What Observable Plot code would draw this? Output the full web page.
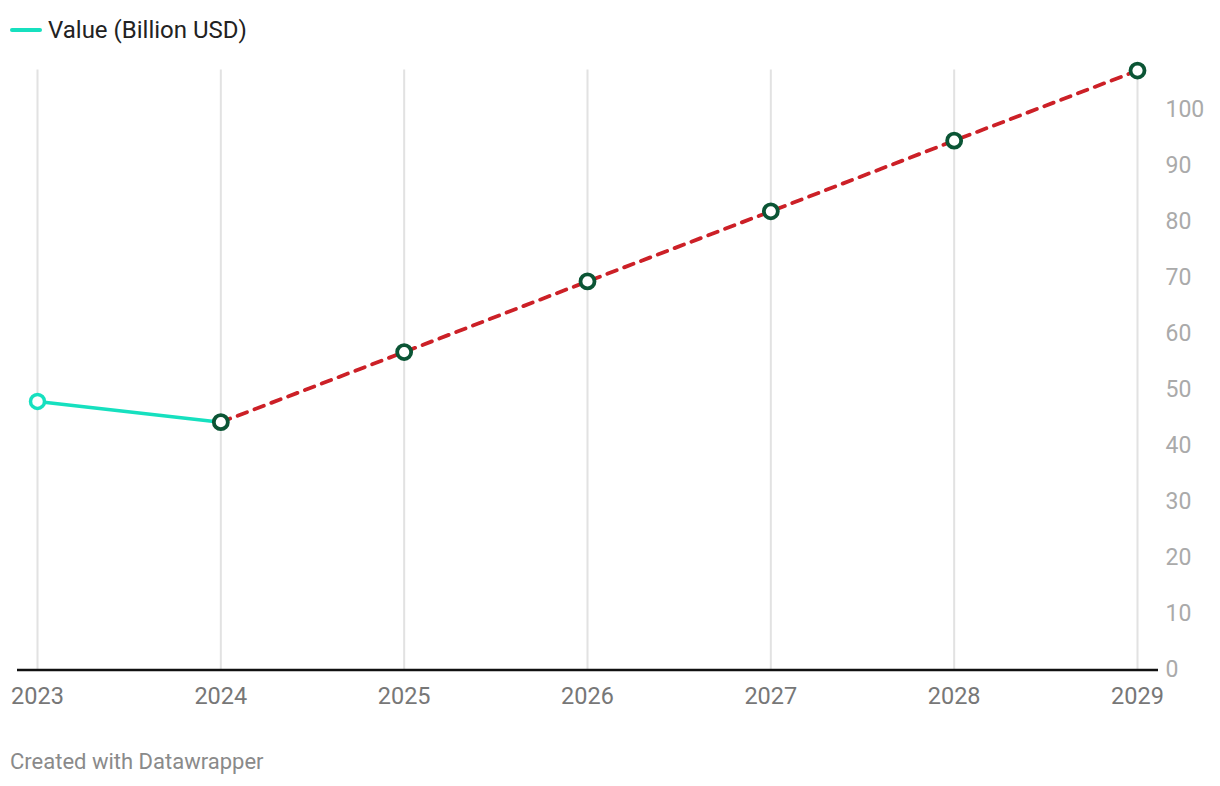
<!DOCTYPE html>
<html>
<head>
<meta charset="utf-8">
<script src="https://cdn.jsdelivr.net/npm/d3@7"></script>
<script src="https://cdn.jsdelivr.net/npm/@observablehq/plot@0.6"></script>
<style>
  html, body { margin: 0; padding: 0; background: #fff; }
  body { width: 1220px; height: 786px; font-family: Roboto, "Noto Sans", sans-serif; position: relative; overflow: hidden; }
  #legend { height: 56px; position: relative; }
  #legend .sw { position: absolute; left: 10px; top: 28px; width: 32px; height: 4px; border-radius: 2px; background: #16e0bf; }
  #legend .lab { position: absolute; left: 48px; top: 15px; font-size: 24px; line-height: 30px; color: #222; }
  #footer { position: absolute; left: 10px; top: 748px; font-size: 22px; color: #8a8a8a; line-height: 28px; }
</style>
</head>
<body>
<div id="legend"><div class="sw"></div><div class="lab">Value (Billion USD)</div></div>
<div id="chart"></div>
<div id="footer">Created with Datawrapper</div>
<script>
const years = [2023, 2024, 2025, 2026, 2027, 2028, 2029];
const values = [47.9, 44.2, 56.7, 69.3, 81.8, 94.4, 106.9];
const yTicks = [0, 10, 20, 30, 40, 50, 60, 70, 80, 90, 100];

const data = years.map((year, i) => ({year, value: values[i]}));
const actual = data.slice(0, 2);
const forecast = data.slice(1);

const chart = Plot.plot({
  width: 1220,
  height: 660,
  marginTop: 13.5,
  marginBottom: 46.5,
  marginLeft: 17,
  marginRight: 62,
  style: {fontFamily: "Roboto, sans-serif", background: "#fff"},
  x: {domain: [2023, 2029], insetLeft: 20, insetRight: 21},
  y: {domain: [0, 107]},
  marks: [
    Plot.ruleX(years, {stroke: "#e2e2e2", strokeWidth: 2}),
    Plot.ruleY([0], {stroke: "#111", strokeWidth: 2.5}),
    Plot.axisX({ticks: years, tickFormat: d => String(d), tickSize: 0, tickPadding: 17, fontSize: 23.5, fill: "#777", label: null}),
    Plot.axisY({anchor: "right", ticks: yTicks, tickSize: 0, tickPadding: 7, fontSize: 23, fill: "#aaa", label: null}),
    Plot.line(actual, {x: "year", y: "value", stroke: "#16e0bf", strokeWidth: 3.5}),
    Plot.line(forecast, {x: "year", y: "value", stroke: "#cc2027", strokeWidth: 3.8, strokeDasharray: "10,8"}),
    Plot.dot(data.slice(0, 1), {x: "year", y: "value", r: 7, fill: "#fff", stroke: "#16e0bf", strokeWidth: 3.5}),
    Plot.dot(forecast, {x: "year", y: "value", r: 7, fill: "#fff", stroke: "#0b5535", strokeWidth: 3.8})
  ]
});
document.getElementById("chart").append(chart);
</script>
</body>
</html>
